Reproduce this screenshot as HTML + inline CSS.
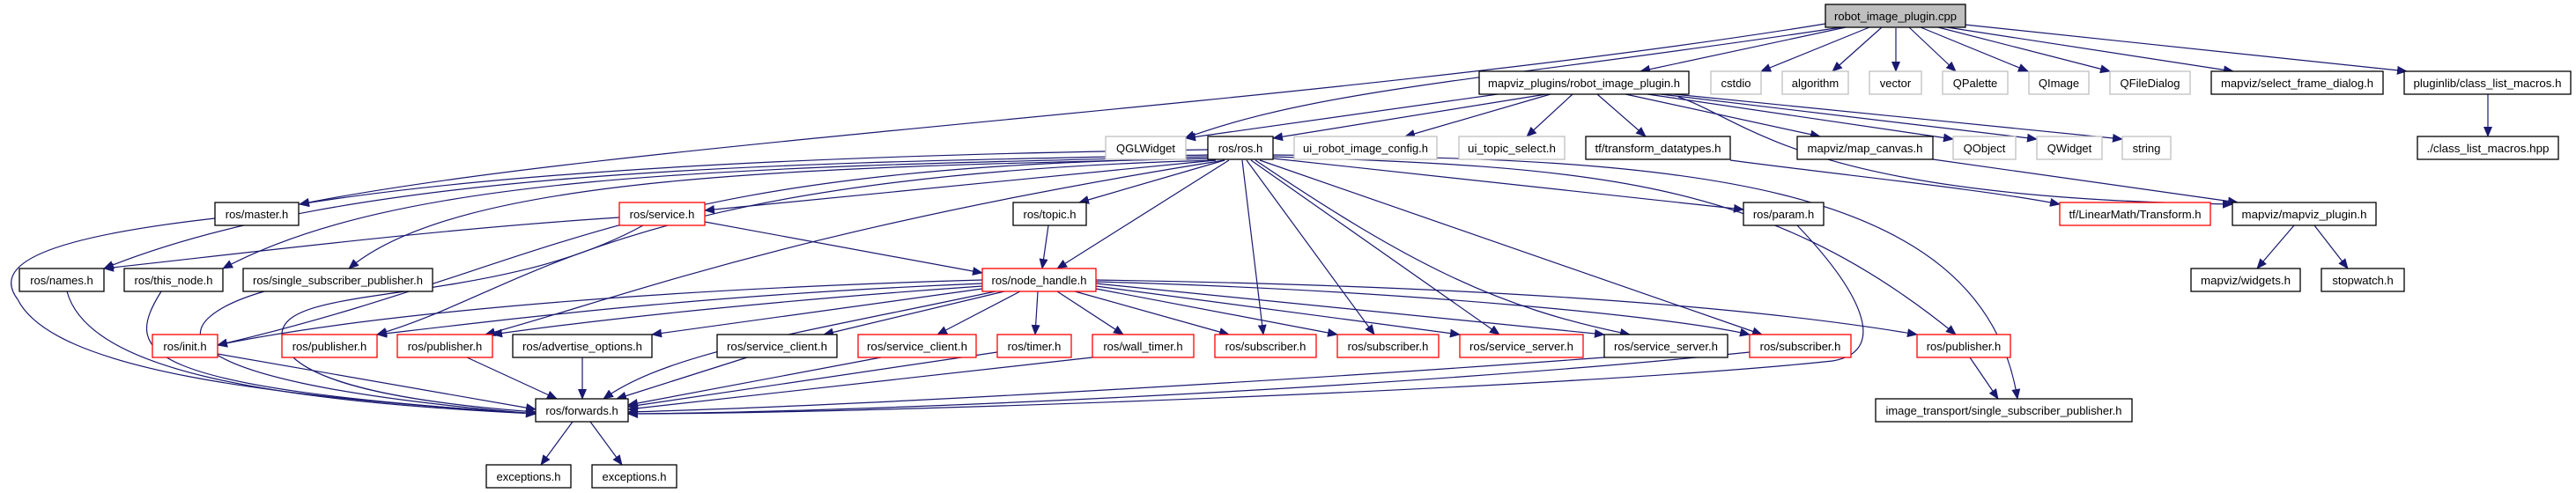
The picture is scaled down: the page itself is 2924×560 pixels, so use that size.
<!DOCTYPE html>
<html><head><meta charset="utf-8"><style>
html,body{margin:0;padding:0;background:#fff;}
svg{display:block}
text{font-family:"Liberation Sans",sans-serif;font-size:13px;fill:#000;}
.e{fill:none;stroke:#191970;stroke-width:1.2;marker-end:url(#a)}
.b{fill:#fff;stroke:#000;stroke-width:1.3}
.g{fill:#fff;stroke:#bfbfbf;stroke-width:1.3}
.r{fill:#fff;stroke:#ff0000;stroke-width:1.3}
</style></head><body>
<svg width="2924" height="560" viewBox="0 0 2924 560" xmlns="http://www.w3.org/2000/svg">
<defs><marker id="a" markerUnits="userSpaceOnUse" markerWidth="12" markerHeight="10" refX="11" refY="5" orient="auto"><path d="M0,0 L12,5 L0,10 z" fill="#191970"/></marker></defs>
<g>
<path class="e" d="M2072,27 C1500,120 700,160 340,232"/>
<path class="e" d="M2090,31 C1700,90 1500,100 1345,157"/>
<path class="e" d="M2095,31 L1862,81"/>
<path class="e" d="M2122,31 L1999,81"/>
<path class="e" d="M2136,31 L2080,81"/>
<path class="e" d="M2152,32 L2152,81"/>
<path class="e" d="M2167,31 L2220,81"/>
<path class="e" d="M2180,31 L2302,81"/>
<path class="e" d="M2200,31 L2395,81"/>
<path class="e" d="M2210,31 L2535,81"/>
<path class="e" d="M2230,28 L2732,81"/>
<path class="e" d="M1700,107 L1346,157"/>
<path class="e" d="M1755,107 L1445,157"/>
<path class="e" d="M1760,107 L1595,155"/>
<path class="e" d="M1785,107 L1733,155"/>
<path class="e" d="M1813,107 L1868,155"/>
<path class="e" d="M1845,107 L2066,155"/>
<path class="e" d="M1870,107 L2217,158"/>
<path class="e" d="M1885,107 L2312,158"/>
<path class="e" d="M1900,107 L2409,158"/>
<path class="e" d="M1905,110 C1990,140 2050,225 2534,232"/>
<path class="e" d="M1964,182 C2100,200 2250,215 2338,232"/>
<path class="e" d="M2194,181 L2540,230"/>
<path class="e" d="M2824,107 L2824,155"/>
<path class="e" d="M2604,256 L2562,305"/>
<path class="e" d="M2627,256 L2665,305"/>
<path class="e" d="M1371,170 C1000,175 600,190 340,232"/>
<path class="e" d="M1371,176 C900,185 400,190 118,305"/>
<path class="e" d="M1371,178 C800,190 450,200 253,305"/>
<path class="e" d="M1375,180 C900,190 520,200 396,305"/>
<path class="e" d="M1380,182 L800,239"/>
<path class="e" d="M1372,180 C700,190 640,300 247,392"/>
<path class="e" d="M1380,182 C700,200 600,330 428,380"/>
<path class="e" d="M1390,182 C900,260 700,340 551,380"/>
<path class="e" d="M1390,182 L1225,230"/>
<path class="e" d="M1395,182 L1200,305"/>
<path class="e" d="M1410,182 L1434,380"/>
<path class="e" d="M1415,182 L1560,380"/>
<path class="e" d="M1420,182 L1702,380"/>
<path class="e" d="M1425,182 C1600,300 1700,350 1850,380"/>
<path class="e" d="M1430,182 L2000,380"/>
<path class="e" d="M1445,180 L1979,238"/>
<path class="e" d="M1445,178 C1800,190 2000,200 2220,380"/>
<path class="e" d="M1445,176 C1900,180 2250,200 2290,453"/>
<path class="e" d="M703,247 C500,260 300,285 118,305"/>
<path class="e" d="M800,252 L1115,310"/>
<path class="e" d="M730,256 C560,350 320,320 320,380 C320,440 500,460 608,468"/>
<path class="e" d="M1190,256 L1183,305"/>
<path class="e" d="M1115,318 C700,330 400,360 247,392"/>
<path class="e" d="M1115,322 C800,335 600,360 428,380"/>
<path class="e" d="M1115,325 C900,340 700,360 559,380"/>
<path class="e" d="M1115,328 L740,380"/>
<path class="e" d="M1140,331 L935,380"/>
<path class="e" d="M1158,331 L1064,380"/>
<path class="e" d="M1178,331 L1175,380"/>
<path class="e" d="M1200,331 L1275,380"/>
<path class="e" d="M1220,331 L1395,380"/>
<path class="e" d="M1244,328 L1518,380"/>
<path class="e" d="M1244,325 L1657,380"/>
<path class="e" d="M1244,322 L1821,380"/>
<path class="e" d="M1244,320 C1600,330 1900,360 1986,380"/>
<path class="e" d="M1244,318 C1700,325 2000,350 2176,380"/>
<path class="e" d="M1130,331 C900,380 760,400 685,453"/>
<path class="e" d="M247,402 L608,465"/>
<path class="e" d="M530,406 L632,453"/>
<path class="e" d="M661,406 L661,453"/>
<path class="e" d="M848,406 L700,453"/>
<path class="e" d="M1000,406 L713,460"/>
<path class="e" d="M1132,400 L713,462"/>
<path class="e" d="M1240,406 L713,465"/>
<path class="e" d="M1821,406 C1500,430 1000,460 713,468"/>
<path class="e" d="M1986,400 C1600,440 1000,468 713,470"/>
<path class="e" d="M244,248 C50,270 -10,300 20,340 C60,420 300,450 608,470"/>
<path class="e" d="M76,331 C100,420 300,455 608,470"/>
<path class="e" d="M183,331 C140,400 150,440 608,470"/>
<path class="e" d="M300,331 C200,360 130,430 608,470"/>
<path class="e" d="M2040,256 C2120,340 2140,400 2080,410 C1800,440 1000,470 713,470"/>
<path class="e" d="M2236,406 L2268,453"/>
<path class="e" d="M650,479 L614,528"/>
<path class="e" d="M670,479 L706,528"/>
</g>
<g text-anchor="middle">
<rect x="2072" y="5" width="159" height="26" fill="#bfbfbf" stroke="#000" stroke-width="1.3"/><text x="2151.5" y="23" textLength="139" lengthAdjust="spacingAndGlyphs">robot_image_plugin.cpp</text>
<rect class="b" x="1679" y="81" width="238" height="26"/><text x="1798" y="99" textLength="218" lengthAdjust="spacingAndGlyphs">mapviz_plugins/robot_image_plugin.h</text>
<rect class="g" x="1942" y="81" width="57" height="26"/><text x="1970.5" y="99">cstdio</text>
<rect class="g" x="2023" y="81" width="75" height="26"/><text x="2060.5" y="99">algorithm</text>
<rect class="g" x="2122" y="81" width="59" height="26"/><text x="2151.5" y="99">vector</text>
<rect class="g" x="2205" y="81" width="74" height="26"/><text x="2242" y="99">QPalette</text>
<rect class="g" x="2303" y="81" width="68" height="26"/><text x="2337" y="99">QImage</text>
<rect class="g" x="2395" y="81" width="91" height="26"/><text x="2440.5" y="99">QFileDialog</text>
<rect class="b" x="2510" y="81" width="195" height="26"/><text x="2607.5" y="99" textLength="173" lengthAdjust="spacingAndGlyphs">mapviz/select_frame_dialog.h</text>
<rect class="b" x="2729" y="81" width="189" height="26"/><text x="2823.5" y="99" textLength="168" lengthAdjust="spacingAndGlyphs">pluginlib/class_list_macros.h</text>
<rect class="g" x="1255" y="155" width="91" height="26"/><text x="1300.5" y="173">QGLWidget</text>
<rect class="b" x="1371" y="155" width="74" height="26"/><text x="1408" y="173">ros/ros.h</text>
<rect class="g" x="1469" y="155" width="162" height="26"/><text x="1550" y="173" textLength="142" lengthAdjust="spacingAndGlyphs">ui_robot_image_config.h</text>
<rect class="g" x="1656" y="155" width="120" height="26"/><text x="1716" y="173" textLength="100" lengthAdjust="spacingAndGlyphs">ui_topic_select.h</text>
<rect class="b" x="1800" y="155" width="164" height="26"/><text x="1882" y="173" textLength="143" lengthAdjust="spacingAndGlyphs">tf/transform_datatypes.h</text>
<rect class="b" x="2040" y="155" width="154" height="26"/><text x="2117" y="173" textLength="131" lengthAdjust="spacingAndGlyphs">mapviz/map_canvas.h</text>
<rect class="g" x="2217" y="155" width="71" height="26"/><text x="2252.5" y="173">QObject</text>
<rect class="g" x="2312" y="155" width="74" height="26"/><text x="2349" y="173">QWidget</text>
<rect class="g" x="2409" y="155" width="55" height="26"/><text x="2436.5" y="173">string</text>
<rect class="b" x="2744" y="155" width="160" height="26"/><text x="2824" y="173" textLength="139" lengthAdjust="spacingAndGlyphs">./class_list_macros.hpp</text>
<rect class="b" x="244" y="230" width="95" height="26"/><text x="291.5" y="248">ros/master.h</text>
<rect class="r" x="703" y="230" width="97" height="26"/><text x="751.5" y="248">ros/service.h</text>
<rect class="b" x="1150" y="230" width="83" height="26"/><text x="1191.5" y="248">ros/topic.h</text>
<rect class="b" x="1979" y="230" width="91" height="26"/><text x="2024.5" y="248">ros/param.h</text>
<rect class="r" x="2338" y="230" width="171" height="26"/><text x="2423.5" y="248" textLength="150" lengthAdjust="spacingAndGlyphs">tf/LinearMath/Transform.h</text>
<rect class="b" x="2534" y="230" width="163" height="26"/><text x="2615.5" y="248" textLength="142" lengthAdjust="spacingAndGlyphs">mapviz/mapviz_plugin.h</text>
<rect class="b" x="22" y="305" width="96" height="26"/><text x="70" y="323">ros/names.h</text>
<rect class="b" x="141" y="305" width="112" height="26"/><text x="197" y="323">ros/this_node.h</text>
<rect class="b" x="276" y="305" width="215" height="26"/><text x="383.5" y="323" textLength="193" lengthAdjust="spacingAndGlyphs">ros/single_subscriber_publisher.h</text>
<rect class="r" x="1115" y="305" width="129" height="26"/><text x="1179.5" y="323" textLength="108" lengthAdjust="spacingAndGlyphs">ros/node_handle.h</text>
<rect class="b" x="2487" y="305" width="124" height="26"/><text x="2549" y="323" textLength="102" lengthAdjust="spacingAndGlyphs">mapviz/widgets.h</text>
<rect class="b" x="2635" y="305" width="94" height="26"/><text x="2682" y="323">stopwatch.h</text>
<rect class="r" x="173" y="380" width="74" height="26"/><text x="210" y="398">ros/init.h</text>
<rect class="r" x="320" y="380" width="108" height="26"/><text x="374" y="398">ros/publisher.h</text>
<rect class="r" x="451" y="380" width="108" height="26"/><text x="505" y="398">ros/publisher.h</text>
<rect class="b" x="582" y="380" width="158" height="26"/><text x="661" y="398" textLength="136" lengthAdjust="spacingAndGlyphs">ros/advertise_options.h</text>
<rect class="b" x="814" y="380" width="136" height="26"/><text x="882" y="398" textLength="114" lengthAdjust="spacingAndGlyphs">ros/service_client.h</text>
<rect class="r" x="974" y="380" width="134" height="26"/><text x="1041" y="398" textLength="114" lengthAdjust="spacingAndGlyphs">ros/service_client.h</text>
<rect class="r" x="1132" y="380" width="84" height="26"/><text x="1174" y="398">ros/timer.h</text>
<rect class="r" x="1240" y="380" width="115" height="26"/><text x="1297.5" y="398">ros/wall_timer.h</text>
<rect class="r" x="1379" y="380" width="115" height="26"/><text x="1436.5" y="398">ros/subscriber.h</text>
<rect class="r" x="1518" y="380" width="115" height="26"/><text x="1575.5" y="398">ros/subscriber.h</text>
<rect class="r" x="1657" y="380" width="140" height="26"/><text x="1727" y="398" textLength="118" lengthAdjust="spacingAndGlyphs">ros/service_server.h</text>
<rect class="b" x="1821" y="380" width="140" height="26"/><text x="1891" y="398" textLength="118" lengthAdjust="spacingAndGlyphs">ros/service_server.h</text>
<rect class="r" x="1986" y="380" width="115" height="26"/><text x="2043.5" y="398">ros/subscriber.h</text>
<rect class="r" x="2176" y="380" width="106" height="26"/><text x="2229" y="398">ros/publisher.h</text>
<rect class="b" x="608" y="453" width="105" height="26"/><text x="660.5" y="471">ros/forwards.h</text>
<rect class="b" x="2129" y="453" width="291" height="26"/><text x="2274.5" y="471" textLength="268" lengthAdjust="spacingAndGlyphs">image_transport/single_subscriber_publisher.h</text>
<rect class="b" x="552" y="528" width="96" height="26"/><text x="600" y="546">exceptions.h</text>
<rect class="b" x="672" y="528" width="96" height="26"/><text x="720" y="546">exceptions.h</text>
</g>
</svg>
</body></html>
